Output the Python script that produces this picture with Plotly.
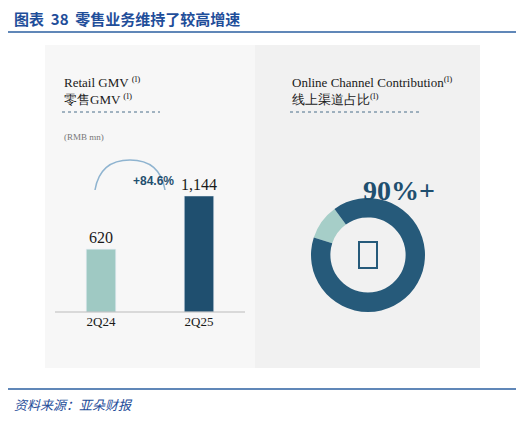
import plotly.graph_objects as go

periods = ["2Q24", "2Q25"]
gmv = [620, 1144]
gmv_labels = ["620", "1,144"]
channel_labels = ["Other", "Online"]
channel_share = [10, 90]

W, H = 508, 405
def px(x): return (x - 8) / W
def py(y): return 1 - (y - 8) / H

fig = go.Figure()
fig.add_trace(go.Bar(
    x=periods, y=gmv, text=gmv_labels, textposition="outside", constraintext="none",
    textfont=dict(family="Liberation Serif", size=16, color="#1a1a1a"),
    marker=dict(color=["#9fc9c3", "#1f4f6f"]), width=0.3, cliponaxis=False,
    showlegend=False, xaxis="x", yaxis="y"))
fig.add_trace(go.Pie(
    labels=channel_labels, values=channel_share, hole=0.66, sort=False,
    direction="clockwise", rotation=-72, textinfo="none", showlegend=False,
    marker=dict(colors=["#a6cec8", "#265a7a"], line=dict(width=0)),
    domain=dict(x=[px(311), px(425)], y=[py(312), py(198)])))

fig.update_layout(
    width=W, height=H, margin=dict(l=0, r=0, t=0, b=0),
    paper_bgcolor="white", plot_bgcolor="rgba(0,0,0,0)",
    xaxis=dict(domain=[px(52), px(248)], showgrid=False, zeroline=False,
               showline=False, ticks="",
               tickfont=dict(family="Liberation Serif", size=13, color="#1a1a1a")),
    yaxis=dict(domain=[py(312), py(196) + (py(196) - py(312)) * 0.5],
               range=[0, 1144 * 1.5], visible=False),
    shapes=[
        dict(type="rect", xref="paper", yref="paper", x0=px(45), x1=px(480),
             y0=py(368), y1=py(45), fillcolor="#f1f1f1", line=dict(width=0), layer="below"),
        dict(type="rect", xref="paper", yref="paper", x0=px(45), x1=px(255),
             y0=py(368), y1=py(45), fillcolor="#f7f7f7", line=dict(width=0), layer="below"),
        dict(type="line", xref="paper", yref="paper", x0=0, x1=1, y0=py(32), y1=py(32),
             line=dict(color="#2b5fa0", width=1.5)),
        dict(type="line", xref="paper", yref="paper", x0=0, x1=1, y0=py(389), y1=py(389),
             line=dict(color="#2b5fa0", width=1.5)),
        dict(type="line", xref="paper", yref="paper", x0=px(62), x1=px(160), y0=py(112), y1=py(112),
             line=dict(color="#4a6f8a", width=1, dash="dot")),
        dict(type="line", xref="paper", yref="paper", x0=px(290), x1=px(420), y0=py(112), y1=py(112),
             line=dict(color="#4a6f8a", width=1, dash="dot")),
        dict(type="line", xref="paper", yref="paper", x0=px(55), x1=px(245), y0=py(312), y1=py(312),
             line=dict(color="#bbbbbb", width=1)),
        dict(type="path", xref="paper", yref="paper",
             path=f"M {px(95)},{py(190)} Q {px(100)},{py(160)} {px(130)},{py(160)} Q {px(160)},{py(160)} {px(165)},{py(190)}",
             line=dict(color="#8fb4d0", width=1.5)),
        dict(type="rect", xref="paper", yref="paper", x0=px(359), x1=px(377), y0=py(268), y1=py(242),
             line=dict(color="#265a7a", width=2)),
    ],
    annotations=[
        dict(text="<b>图表  38  零售业务维持了较高增速</b>", x=px(12), y=py(18), xref="paper", yref="paper",
             xanchor="left", yanchor="middle", showarrow=False,
             font=dict(family="Noto Sans CJK SC", size=15, color="#1f4e9a")),
        dict(text="<i>资料来源：亚朵财报</i>", x=px(12), y=py(404), xref="paper", yref="paper",
             xanchor="left", yanchor="middle", showarrow=False,
             font=dict(family="Noto Sans CJK SC", size=13, color="#1f4e9a")),
        dict(text="Retail GMV <sup>(l)</sup><br>零售GMV <sup>(l)</sup>", x=px(62), y=py(90), xref="paper", yref="paper",
             xanchor="left", yanchor="middle", align="left", showarrow=False,
             font=dict(family="Liberation Serif", size=13, color="#1a1a1a")),
        dict(text="(RMB mn)", x=px(62), y=py(130), xref="paper", yref="paper", xanchor="left",
             showarrow=False, font=dict(family="Liberation Serif", size=9, color="#777777")),
        dict(text="Online Channel Contribution<sup>(l)</sup><br>线上渠道占比<sup>(l)</sup>", x=px(290), y=py(90),
             xref="paper", yref="paper", xanchor="left", yanchor="middle", align="left", showarrow=False,
             font=dict(family="Liberation Serif", size=13, color="#1a1a1a")),
        dict(text="<b>+84.6%</b>", x=px(131), y=py(181), xref="paper", yref="paper", showarrow=False,
             font=dict(family="Liberation Sans", size=12, color="#1f4f6f")),
        dict(text="<b>90%+</b>", x=px(437), y=py(190), xref="paper", yref="paper", showarrow=False,
             font=dict(family="Liberation Serif", size=28, color="#1f4f6f")),
    ],
)
fig.write_html("out.html")
